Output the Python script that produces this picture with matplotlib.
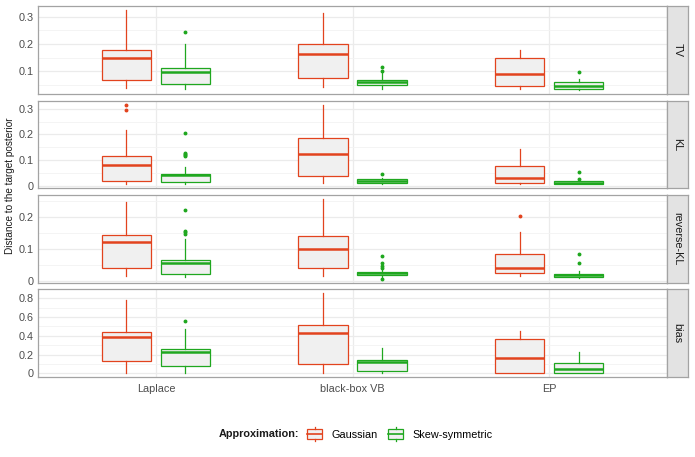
import matplotlib
matplotlib.use("Agg")
import matplotlib.pyplot as plt
from matplotlib.legend_handler import HandlerBase
from matplotlib.patches import Rectangle
from matplotlib.lines import Line2D
from matplotlib.ticker import MultipleLocator, FuncFormatter

plt.rcParams["font.family"] = ["Liberation Sans", "DejaVu Sans"]

# Categories and groups
methods = ["Laplace", "black-box VB", "EP"]
groups = ["Gaussian", "Skew-symmetric"]
metrics = ["TV", "KL", "reverse-KL", "bias"]

# Box stats per method: [whisker low, q1, median, q3, whisker high]
tv_gaussian = [
    [0.037, 0.069, 0.150, 0.176, 0.324],
    [0.042, 0.074, 0.164, 0.201, 0.313],
    [0.036, 0.044, 0.089, 0.147, 0.176],
]
tv_skew = [
    [0.036, 0.052, 0.096, 0.110, 0.198],
    [0.036, 0.050, 0.061, 0.067, 0.094],
    [0.031, 0.036, 0.047, 0.060, 0.072],
]
tv_gaussian_out = [[], [], []]
tv_skew_out = [[0.245], [0.117, 0.101], [0.0975]]

kl_gaussian = [
    [0.009, 0.021, 0.083, 0.116, 0.217],
    [0.012, 0.040, 0.123, 0.186, 0.315],
    [0.009, 0.012, 0.032, 0.077, 0.145],
]
kl_skew = [
    [0.009, 0.016, 0.042, 0.048, 0.073],
    [0.011, 0.014, 0.022, 0.027, 0.033],
    [0.009, 0.009, 0.014, 0.019, 0.024],
]
kl_gaussian_out = [[0.314, 0.295], [], []]
kl_skew_out = [[0.207, 0.128, 0.124, 0.120, 0.117], [0.049], [0.057, 0.030]]

rkl_gaussian = [
    [0.014, 0.040, 0.122, 0.143, 0.245],
    [0.016, 0.039, 0.098, 0.141, 0.254],
    [0.014, 0.025, 0.040, 0.082, 0.151],
]
rkl_skew = [
    [0.011, 0.021, 0.056, 0.065, 0.131],
    [0.012, 0.018, 0.023, 0.027, 0.035],
    [0.009, 0.013, 0.017, 0.021, 0.030],
]
rkl_gaussian_out = [[], [], [0.2025]]
rkl_skew_out = [[0.220, 0.156, 0.151, 0.147], [0.077, 0.055, 0.046, 0.041, 0.0065], [0.0825, 0.054]]

bias_gaussian = [
    [0.000, 0.133, 0.385, 0.435, 0.777],
    [0.000, 0.097, 0.424, 0.515, 0.852],
    [0.000, 0.002, 0.165, 0.363, 0.453],
]
bias_skew = [
    [0.000, 0.079, 0.223, 0.262, 0.475],
    [0.003, 0.029, 0.119, 0.143, 0.273],
    [0.000, 0.005, 0.046, 0.115, 0.226],
]
bias_gaussian_out = [[], [], []]
bias_skew_out = [[0.561], [], []]

panel_data = {
    "TV": (tv_gaussian, tv_skew, tv_gaussian_out, tv_skew_out),
    "KL": (kl_gaussian, kl_skew, kl_gaussian_out, kl_skew_out),
    "reverse-KL": (rkl_gaussian, rkl_skew, rkl_gaussian_out, rkl_skew_out),
    "bias": (bias_gaussian, bias_skew, bias_gaussian_out, bias_skew_out),
}
major_step = {"TV": 0.1, "KL": 0.1, "reverse-KL": 0.1, "bias": 0.2}

colors = ["#E2431E", "#1FA71F"]
box_fill = "#F0F0F0"
border = "#A3A3A3"
text_col = "#4D4D4D"

W, H = 695, 457
panel_left, panel_right, strip_right = 38, 667, 688
rows_px = [(6, 94), (100.7, 188), (195.3, 282.7), (289.3, 377.3)]


def make_stats(stats, outliers):
    """Convert [lo, q1, med, q3, hi] lists into bxp dicts."""
    out = []
    for s, fl in zip(stats, outliers):
        out.append(
            dict(whislo=s[0], q1=s[1], med=s[2], q3=s[3],
                 whishi=s[4], fliers=fl)
        )
    return out


def draw_panel(ax, metric):
    """Draw one facet row of dodged boxplots."""
    gauss, skew, gauss_out, skew_out = panel_data[metric]
    values = []
    for g in (gauss, skew):
        for s in g:
            values += s
    for o in gauss_out + skew_out:
        values += o
    lo, hi = min(values), max(values)
    pad = (hi - lo) * 0.05
    ax.set_ylim(lo - pad, hi + pad)
    ax.set_xlim(0.4, 3.6)

    for k, (stats, outs) in enumerate(
        [(gauss, gauss_out), (skew, skew_out)]
    ):
        col = colors[k]
        pos = [i + 1 + (-0.15 if k == 0 else 0.15)
               for i in range(len(methods))]
        ax.bxp(
            make_stats(stats, outs),
            positions=pos,
            widths=0.25,
            patch_artist=True,
            showcaps=False,
            boxprops=dict(facecolor=box_fill, edgecolor=col,
                          linewidth=0.9),
            medianprops=dict(color=col, linewidth=1.8),
            whiskerprops=dict(color=col, linewidth=0.9),
            flierprops=dict(marker="o", markersize=1.8,
                            markerfacecolor=col, markeredgecolor=col),
            zorder=3,
        )

    ax.yaxis.set_major_locator(MultipleLocator(major_step[metric]))
    ax.yaxis.set_minor_locator(MultipleLocator(major_step[metric] / 2))
    ax.yaxis.set_major_formatter(
        FuncFormatter(lambda v, p: "%g" % round(v, 3))
    )
    ax.set_xticks(range(1, len(methods) + 1))
    ax.set_xticklabels(methods)
    ax.grid(which="major", color="#EBEBEB", linewidth=0.9, zorder=0)
    ax.grid(which="minor", axis="y", color="#F3F3F3",
            linewidth=0.6, zorder=0)
    ax.set_axisbelow(True)
    ax.tick_params(which="both", length=0, pad=3,
                   labelsize=7.8, labelcolor=text_col)
    ax.tick_params(axis="x", pad=5)
    for sp in ax.spines.values():
        sp.set_color(border)
        sp.set_linewidth(0.9)


class BoxHandler(HandlerBase):
    """Legend key that looks like a small boxplot."""

    def __init__(self, color):
        super().__init__()
        self.color = color

    def create_artists(self, legend, orig_handle, xdescent, ydescent,
                       width, height, fontsize, trans):
        c = self.color
        x0 = -xdescent + width * 0.05
        w = width * 0.9
        y0 = -ydescent
        rect = Rectangle((x0, y0 + height * 0.15), w,
                         height * 0.7, facecolor=box_fill,
                         edgecolor=c, linewidth=0.9, transform=trans)
        mid = Line2D([x0, x0 + w], [y0 + height * 0.5] * 2,
                     color=c, linewidth=1.2, transform=trans)
        top = Line2D([x0 + w / 2] * 2, [y0 + height * 0.85, y0 + height],
                     color=c, linewidth=0.9, transform=trans)
        bot = Line2D([x0 + w / 2] * 2, [y0, y0 + height * 0.15],
                     color=c, linewidth=0.9, transform=trans)
        return [rect, mid, top, bot]


fig = plt.figure(figsize=(W / 100, H / 100), dpi=100)

for r, metric in enumerate(metrics):
    top, bottom = rows_px[r]
    ax = fig.add_axes([
        panel_left / W,
        1 - bottom / H,
        (panel_right - panel_left) / W,
        (bottom - top) / H,
    ])
    draw_panel(ax, metric)
    if r < len(metrics) - 1:
        ax.tick_params(axis="x", labelbottom=False)

    # Facet strip on the right
    sax = fig.add_axes([
        panel_right / W,
        1 - bottom / H,
        (strip_right - panel_right) / W,
        (bottom - top) / H,
    ])
    sax.set_facecolor("#E3E3E3")
    sax.set_xticks([])
    sax.set_yticks([])
    for sp in sax.spines.values():
        sp.set_color(border)
        sp.set_linewidth(0.9)
    sax.text(0.5, 0.5, metric, rotation=-90, ha="center", va="center",
             fontsize=7.8, color="#1A1A1A", transform=sax.transAxes)

fig.text(10 / W, 1 - 186 / H, "Distance to the target posterior",
         rotation=90, ha="center", va="center", fontsize=7.2,
         color="#1A1A1A")

# Legend at the bottom
fig.text(299 / W, 1 - 434 / H, "Approximation:", ha="right",
         va="center", fontsize=7.8, fontweight="bold", color="#1A1A1A")
handles = [Rectangle((0, 0), 1, 1), Rectangle((0, 0), 1, 1)]
fig.legend(
    handles,
    groups,
    handler_map={handles[0]: BoxHandler(colors[0]),
                 handles[1]: BoxHandler(colors[1])},
    loc="center left",
    bbox_to_anchor=(306 / W, 1 - 434 / H),
    ncol=2,
    frameon=False,
    fontsize=7.8,
    handlelength=1.6,
    handleheight=1.6,
    handletextpad=0.75,
    columnspacing=0.85,
    borderaxespad=0,
    borderpad=0,
)

fig.savefig("out.png", dpi=100)
